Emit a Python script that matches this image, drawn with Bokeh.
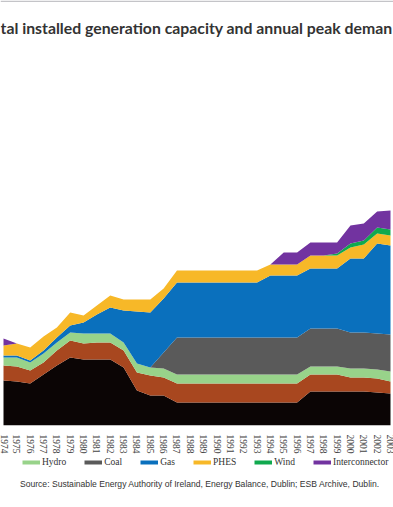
import math
from bokeh.plotting import figure
from bokeh.layouts import column
from bokeh.models import (ColumnDataSource, Range1d, FixedTicker, Legend, LegendItem, Label,
                          AllLabels, BoxAnnotation)
from bokeh.embed import file_html
from bokeh.resources import INLINE

# ---- data (MW) ----
years = list(range(1974, 2004))
year_labels = [str(y) for y in years]

oil = [1125, 1100, 1050, 1275, 1500, 1700, 1650, 1650, 1650, 1450, 875, 750, 750,
       575, 575, 575, 575, 575, 575, 575, 575, 575, 575,
       850, 850, 850, 850, 850, 825, 800]
peat = [375, 375, 325, 300, 375, 425, 400, 425, 425, 425, 450, 500, 450,
        475, 475, 475, 475, 475, 475, 475, 475, 475, 475,
        425, 425, 425, 350, 350, 350, 300]
hydro = [200, 225, 200, 225, 200, 200, 250, 225, 225, 200, 225, 200, 225,
         225, 225, 225, 225, 225, 225, 225, 225, 225, 225,
         200, 200, 200, 225, 225, 225, 250]
coal = [0, 0, 0, 0, 0, 0, 0, 0, 0, 0, 0, 0, 400,
        925, 925, 925, 925, 925, 925, 925, 925, 925, 925,
        950, 950, 950, 900, 900, 900, 925]
gas = [50, 50, 50, 75, 125, 175, 275, 475, 650, 800, 1300, 1375, 1350,
       1375, 1375, 1375, 1375, 1375, 1375, 1375, 1550, 1550, 1550,
       1500, 1500, 1500, 1850, 1850, 2250, 2225]
phes = [250, 300, 325, 350, 250, 325, 175, 225, 300, 275, 300, 325, 250,
        300, 300, 300, 300, 300, 300, 300, 275, 275, 275,
        325, 325, 325, 275, 350, 250, 250]
wind = [0, 0, 0, 0, 0, 0, 0, 0, 0, 0, 0, 0, 0,
        0, 0, 0, 0, 0, 0, 0, 0, 0, 0,
        0, 0, 50, 100, 100, 150, 150]
interconnector = [175, 0, 0, 0, 0, 0, 0, 0, 0, 0, 0, 0, 0,
                  0, 0, 0, 0, 0, 0, 0, 0, 300, 300,
                  325, 325, 275, 450, 425, 400, 475]

series_names = ["Oil", "Peat", "Hydro", "Coal", "Gas", "PHES", "Wind", "Interconnector"]
colors = ["#0b0505", "#a8471f", "#98d38a", "#5a5a5a", "#0a70bd", "#f7b828", "#10a94e", "#7233a0"]
legend_names = series_names[2:]

title_text = "tal installed generation capacity and annual peak deman"
source_text = "Source: Sustainable Energy Authority of Ireland, Energy Balance, Dublin; ESB Archive, Dublin."

src = ColumnDataSource(dict(year=years, Oil=oil, Peat=peat, Hydro=hydro, Coal=coal, Gas=gas,
                            PHES=phes, Wind=wind, Interconnector=interconnector))

W = 393
FRAME_H = 379
PX_PER_YEAR = 387.0 / 29
x0 = 1974 - 3 / PX_PER_YEAR
x1 = x0 + W / PX_PER_YEAR


def strip(h):
    f = figure(width=W, height=h, output_backend="svg", toolbar_location=None,
               x_range=Range1d(0, W), y_range=Range1d(0, h),
               x_axis_location=None, y_axis_location=None, min_border=0)
    f.outline_line_color = None
    f.xgrid.visible = False
    f.ygrid.visible = False
    return f


# top strip: title
H0 = 46
p0 = strip(H0)
p0.add_layout(BoxAnnotation(bottom=H0 - 1.5, top=H0, fill_color="#c4c4c8", fill_alpha=1, line_color=None))
p0.add_layout(Label(x=0, y=H0 - 27, text=title_text, text_align="left", text_baseline="middle",
                    text_font="Lato", text_font_size="15.8px", text_font_style="bold",
                    text_color="#333333"))

# main chart
p = figure(title=None, frame_width=W, frame_height=FRAME_H, output_backend="svg",
           toolbar_location=None,
           x_range=Range1d(x0, x1), y_range=Range1d(0, FRAME_H * 25),
           y_axis_location=None, min_border_left=0, min_border_right=0,
           min_border_top=0, min_border_bottom=24)
p.outline_line_color = None
p.xgrid.visible = False
p.ygrid.visible = False

p.varea_stack(stackers=series_names, x="year", color=colors, source=src)

ax = p.xaxis[0]
ax.ticker = FixedTicker(ticks=years)
ax.major_label_overrides = {y: l for y, l in zip(years, year_labels)}
ax.major_label_policy = AllLabels()
ax.major_label_orientation = -math.pi / 2
ax.major_label_text_font = "Liberation Serif"
ax.major_label_text_font_size = "9.5px"
ax.major_label_text_color = "#444444"
ax.axis_line_color = None
ax.major_tick_line_color = None
ax.minor_tick_line_color = None
ax.major_label_standoff = 3

# bottom strip: legend + source
H2 = 58
p2 = strip(H2)
items = []
for name in legend_names:
    c = colors[series_names.index(name)]
    r = p2.line(x=[-50, -40], y=[-50, -50], line_color=c, line_width=4)
    items.append(LegendItem(label=name, renderers=[r]))
leg = Legend(items=items, orientation="horizontal", location=(22, 46),
             glyph_width=18, glyph_height=12, label_standoff=2, spacing=18,
             label_text_font="Liberation Serif", label_text_font_size="9.5px",
             label_text_color="#333333", label_height=12, label_width=10,
             padding=0, margin=0, border_line_color=None, background_fill_alpha=0)
p2.add_layout(leg)

p2.add_layout(Label(x=W / 2 + 3, y=31, text=source_text, text_align="center", text_baseline="middle",
                    text_font="Liberation Sans", text_font_size="8.6px",
                    text_color="#333333"))
p2.add_layout(BoxAnnotation(bottom=0, top=3, fill_color="#c4c4c8", fill_alpha=1, line_color=None))

open("out.html", "w").write(file_html(column(p0, p, p2, spacing=0), INLINE))
